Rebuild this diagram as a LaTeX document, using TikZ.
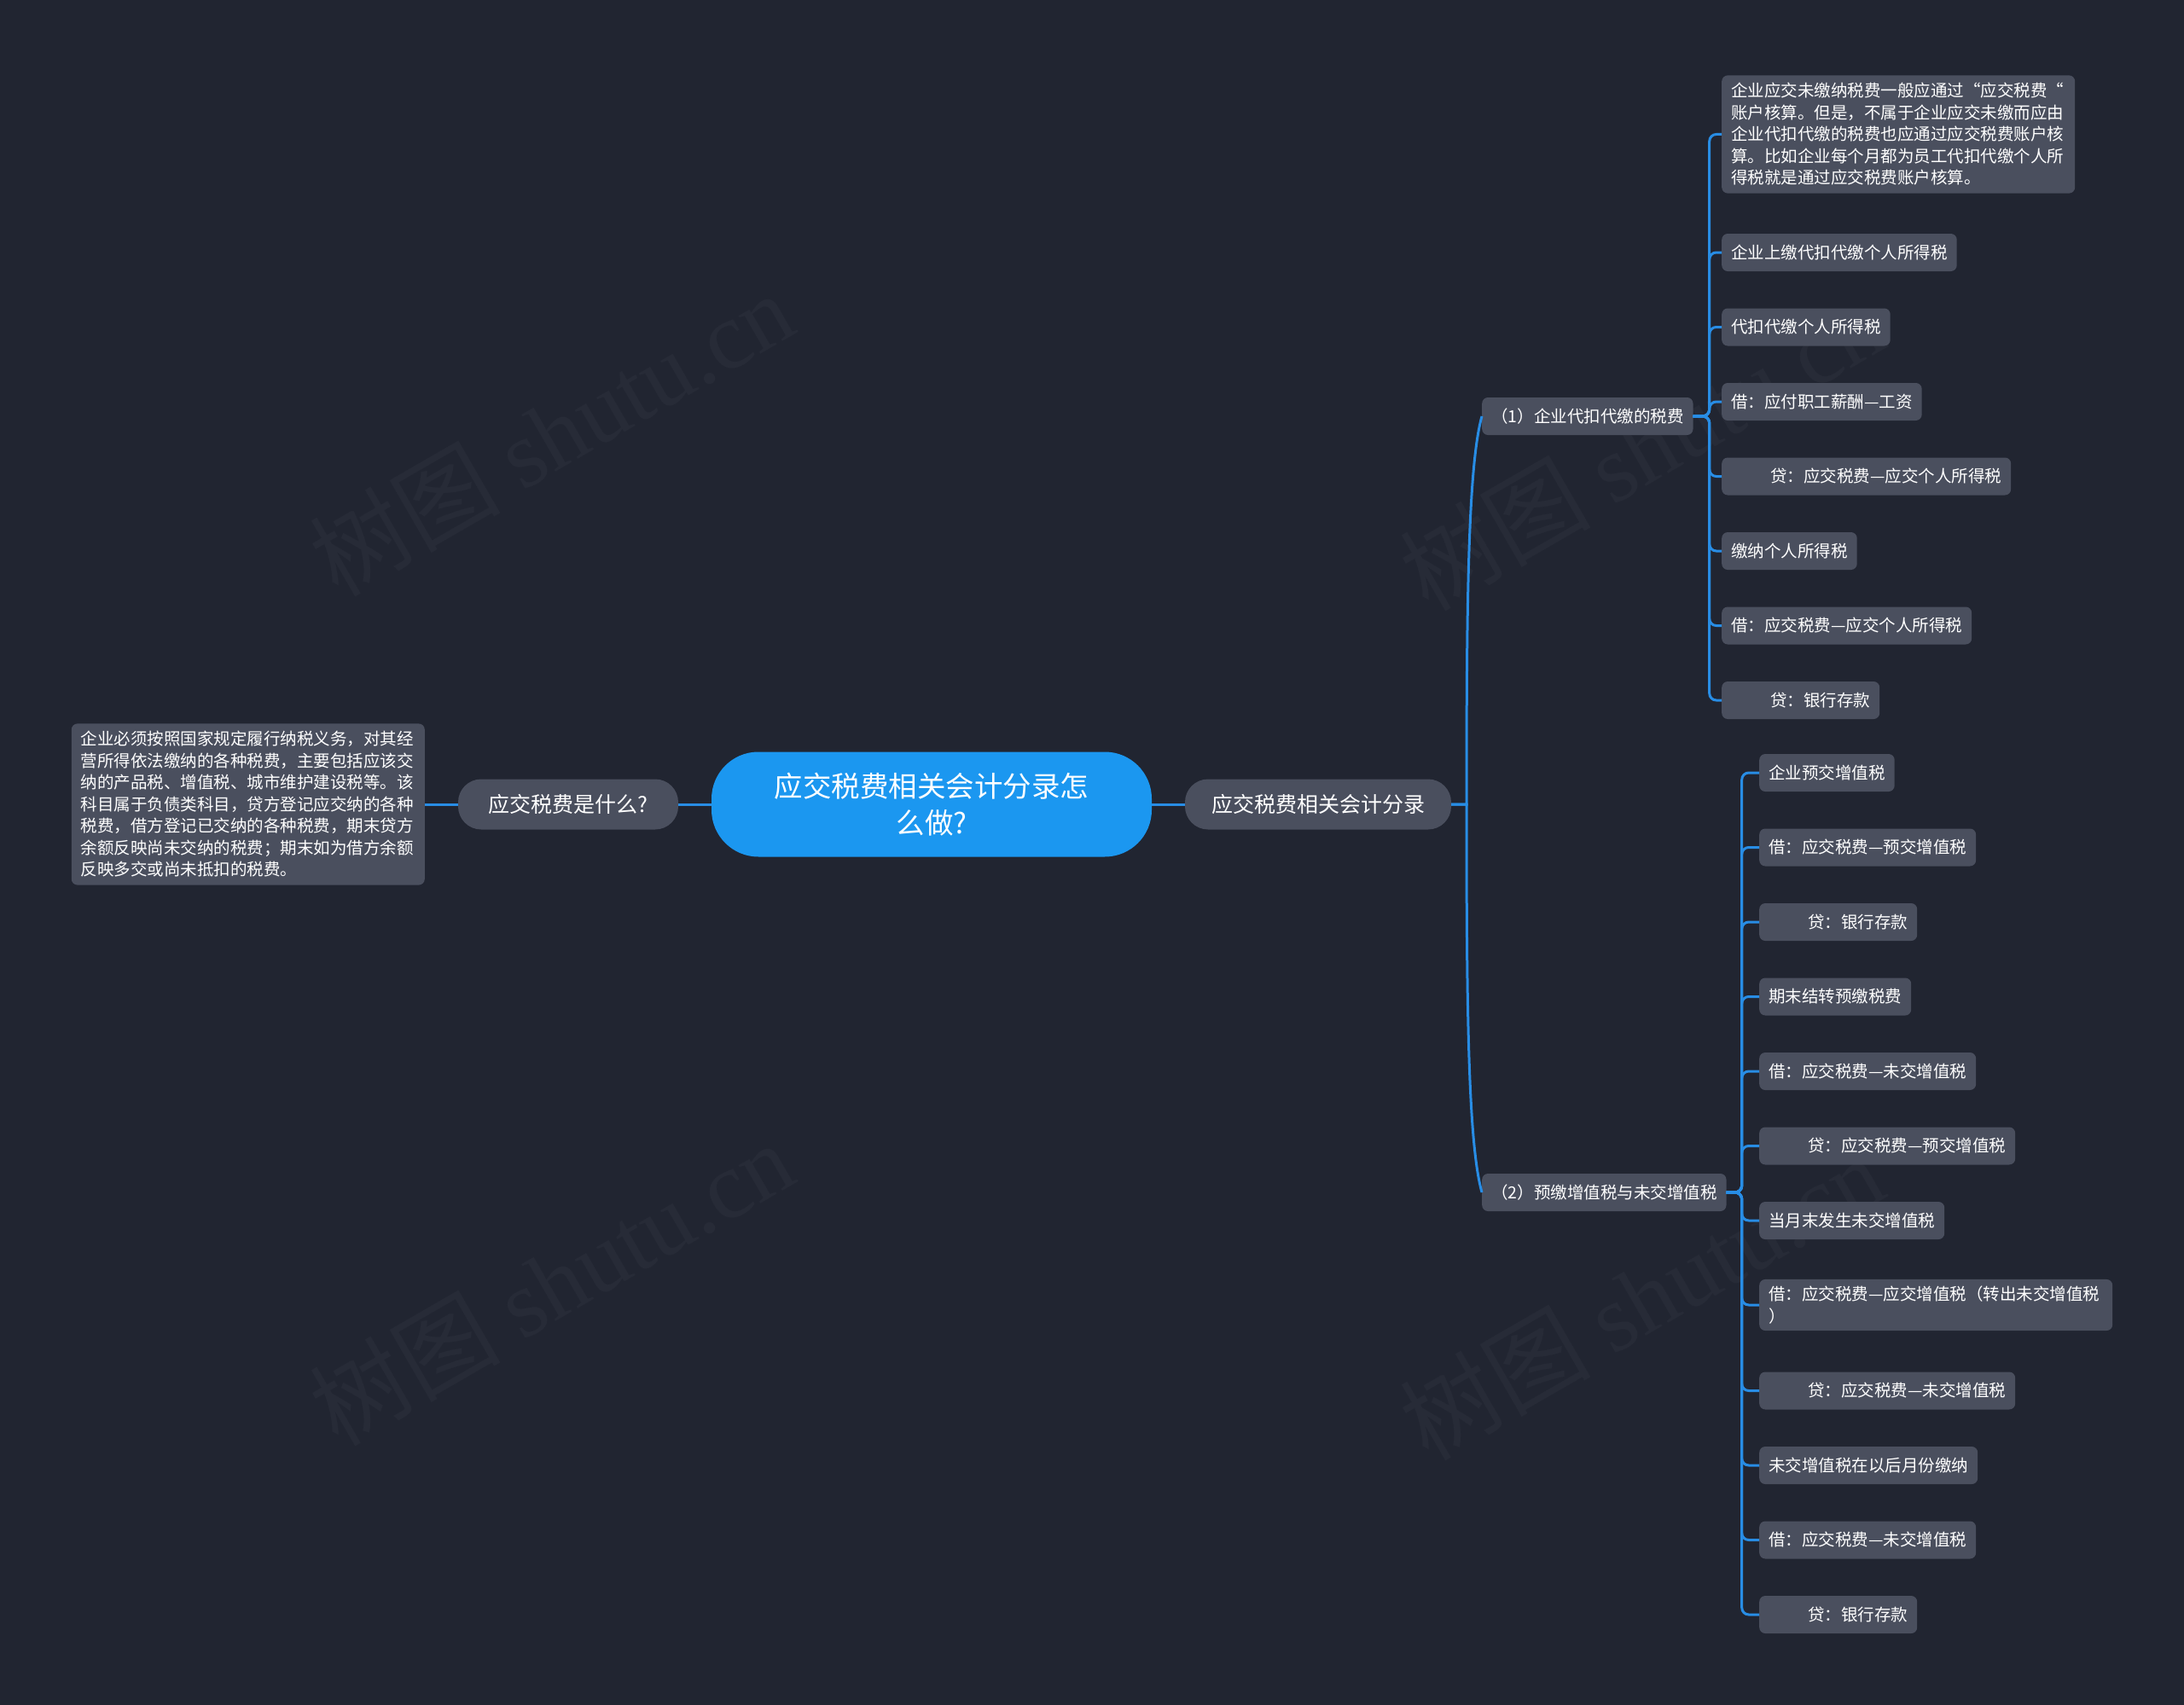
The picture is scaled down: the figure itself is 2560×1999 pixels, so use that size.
\documentclass[tikz,border=0pt]{standalone}
\usepackage{fontspec}
\setmainfont{Noto Sans CJK SC}
\newfontfamily\wmfont{Liberation Serif}
\definecolor{bgc}{RGB}{33,37,49}
\definecolor{nodefill}{RGB}{74,79,94}
\definecolor{linkblue}{RGB}{40,141,229}
\definecolor{rootblue}{RGB}{27,151,240}
\definecolor{wmcol}{RGB}{39,43,55}
\tikzset{
  rootnode/.style={fill=rootblue, rounded corners=55, minimum width=516, minimum height=123,
    align=center, text=white, inner sep=0, font=\fontsize{33.5}{43}\selectfont},
  lone/.style={fill=nodefill, rounded corners=27, minimum height=59, text=white, inner sep=0,
    font=\fontsize{25}{30}\selectfont},
  leaf/.style={fill=nodefill, rounded corners=7, minimum height=44, text=white, inner xsep=11,
    inner ysep=0, anchor=west, font=\fontsize{19.5}{25.5}\selectfont},
  note/.style={fill=nodefill, rounded corners=7, text=white, align=left, text width=392,
    inner xsep=11, inner ysep=9, anchor=west, font=\fontsize{19.5}{25.5}\selectfont},
  conn/.style={draw=linkblue, line width=3, rounded corners=8},
  curve/.style={draw=linkblue, line width=3},
  wm/.style={text=wmcol, font=\fontsize{112}{120}\selectfont, inner sep=0}
}
\newcommand{\ind}{\hspace*{46pt}}
\begin{document}
\begin{tikzpicture}[x=1pt, y=-1pt]
\useasboundingbox (0,0) rectangle (2560,1999);
\fill[bgc] (0,0) rectangle (2560,1999);

% watermarks
\node[wm, rotate=30] (w1) at (646,508) {树图 {\wmfont shutu.cn}};
\node[wm, rotate=30] (w2) at (646,1504) {树图 {\wmfont shutu.cn}};
\node[wm, rotate=30] (w3) at (1924,525) {树图 {\wmfont shutu.cn}};
\node[wm, rotate=30] (w4) at (1924,1521) {树图 {\wmfont shutu.cn}};

% main nodes
\node[rootnode] (root) at (1092,943) {应交税费相关会计分录怎\\么做?};
\node[lone, minimum width=312] (R) at (1545,943) {应交税费相关会计分录};
\node[lone, minimum width=258] (L) at (666,943) {应交税费是什么?};
\node[note, anchor=east] (Lt) at (498,943) {企业必须按照国家规定履行纳税义务，对其经\\营所得依法缴纳的各种税费，主要包括应该交\\纳的产品税、增值税、城市维护建设税等。该\\科目属于负债类科目，贷方登记应交纳的各种\\税费，借方登记已交纳的各种税费，期末贷方\\余额反映尚未交纳的税费；期末如为借方余额\\反映多交或尚未抵扣的税费。};

% group nodes
\node[leaf] (G1) at (1737,488) {（1）企业代扣代缴的税费};
\node[leaf] (G2) at (1737,1398) {（2）预缴增值税与未交增值税};

% group 1 leaves
\node[note] (a0) at (2018,157.5) {企业应交未缴纳税费一般应通过“应交税费“\\账户核算。但是，不属于企业应交未缴而应由\\企业代扣代缴的税费也应通过应交税费账户核\\算。比如企业每个月都为员工代扣代缴个人所\\得税就是通过应交税费账户核算。};
\node[leaf] (a1) at (2018,296) {企业上缴代扣代缴个人所得税};
\node[leaf] (a2) at (2018,383.5) {代扣代缴个人所得税};
\node[leaf] (a3) at (2018,471) {借：应付职工薪酬—工资};
\node[leaf] (a4) at (2018,558.5) {\ind 贷：应交税费—应交个人所得税};
\node[leaf] (a5) at (2018,646) {缴纳个人所得税};
\node[leaf] (a6) at (2018,733.5) {借：应交税费—应交个人所得税};
\node[leaf] (a7) at (2018,821) {\ind 贷：银行存款};

% group 2 leaves
\node[leaf] (b1) at (2062,906) {企业预交增值税};
\node[leaf] (b2) at (2062,993.5) {借：应交税费—预交增值税};
\node[leaf] (b3) at (2062,1081) {\ind 贷：银行存款};
\node[leaf] (b4) at (2062,1168.5) {期末结转预缴税费};
\node[leaf] (b5) at (2062,1256) {借：应交税费—未交增值税};
\node[leaf] (b6) at (2062,1343.5) {\ind 贷：应交税费—预交增值税};
\node[leaf] (b7) at (2062,1431) {当月末发生未交增值税};
\node[note, inner ysep=8] (b8) at (2062,1530) {借：应交税费—应交增值税（转出未交增值税\\）};
\node[leaf] (b9) at (2062,1630.5) {\ind 贷：应交税费—未交增值税};
\node[leaf] (b10) at (2062,1718) {未交增值税在以后月份缴纳};
\node[leaf] (b11) at (2062,1805.5) {借：应交税费—未交增值税};
\node[leaf] (b12) at (2062,1893) {\ind 贷：银行存款};

% connectors
\draw[curve] (root.east) -- (R.west);
\draw[curve] (root.west) -- (L.east);
\draw[curve] (L.west) -- (Lt.east);
\draw[curve] (R.east) -- (1719,943) .. controls (1719,700) and (1721,545) .. (G1.west);
\draw[curve] (R.east) -- (1719,943) .. controls (1719,1186) and (1721,1341) .. (G2.west);

\foreach \n in {a0,a1,a2,a3,a4,a5,a6,a7}
  \draw[conn] (G1.east) -- ++(19,0) |- (\n.west);
\foreach \n in {b1,b2,b3,b4,b5,b6,b7,b8,b9,b10,b11,b12}
  \draw[conn] (G2.east) -- ++(18,0) |- (\n.west);
\end{tikzpicture}
\end{document}
